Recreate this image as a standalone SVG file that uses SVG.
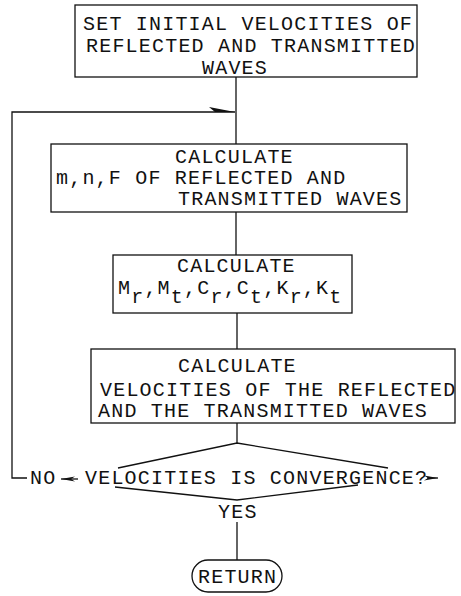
<svg xmlns="http://www.w3.org/2000/svg" width="461" height="596" viewBox="0 0 461 596">
<style>
  .t { font-family: "Liberation Mono", "DejaVu Sans Mono", monospace; font-size: 20px; letter-spacing: 1.2px; fill: #111; }
  .b { fill: #fff; stroke: #111; stroke-width: 1.3; }
  .c { fill: none; stroke: #111; stroke-width: 1.3; }
</style>
<defs>
  <marker id="ah" viewBox="0 0 14 6" refX="14" refY="3" markerWidth="14" markerHeight="6" markerUnits="userSpaceOnUse" orient="auto">
    <path d="M0,0.5 L14,3 L0,5.5 L4,3 z" fill="#111"/>
  </marker>
  <marker id="half" viewBox="0 0 26 6" refX="26" refY="5" markerWidth="26" markerHeight="6" markerUnits="userSpaceOnUse" orient="auto">
    <path d="M0,0 L26,5 L6,5 z" fill="#111"/>
  </marker>
</defs>
<rect width="461" height="596" fill="#fff"/>
<g id="connectors">
  <line class="c" x1="236" y1="77" x2="236" y2="144"/>
  <path class="c" d="M27,478 H12 V112 H235" marker-end="url(#half)"/>
  <line class="c" x1="236" y1="212" x2="236" y2="255"/>
  <line class="c" x1="237" y1="313" x2="237" y2="349"/>
  <line class="c" x1="237" y1="423" x2="237" y2="443"/>
  <line class="c" x1="78" y1="479" x2="61" y2="479" marker-end="url(#ah)"/>
  <line class="c" x1="427" y1="478" x2="438" y2="478" marker-end="url(#ah)"/>
  <line class="c" x1="237" y1="522" x2="237" y2="560"/>
</g>
<g id="n1">
  <rect class="b" x="75" y="5" width="342" height="72"/>
  <text class="t" x="83" y="30">SET INITIAL VELOCITIES OF</text>
  <text class="t" x="86" y="52">REFLECTED AND TRANSMITTED</text>
  <text class="t" x="202" y="74">WAVES</text>
</g>
<g id="n2">
  <rect class="b" x="51" y="144" width="356" height="68"/>
  <text class="t" x="175" y="163">CALCULATE</text>
  <text class="t" x="56" y="184">m,n,F OF REFLECTED AND</text>
  <text class="t" x="178" y="205">TRANSMITTED WAVES</text>
</g>
<g id="n3">
  <rect class="b" x="113" y="255" width="239" height="58"/>
  <text class="t" x="177" y="272">CALCULATE</text>
  <text class="t" x="118" y="294">M<tspan dy="9">r</tspan><tspan dy="-9">,M</tspan><tspan dy="9">t</tspan><tspan dy="-9">,C</tspan><tspan dy="9">r</tspan><tspan dy="-9">,C</tspan><tspan dy="9">t</tspan><tspan dy="-9">,K</tspan><tspan dy="9">r</tspan><tspan dy="-9">,K</tspan><tspan dy="9">t</tspan></text>
</g>
<g id="n4">
  <rect class="b" x="91" y="349" width="364" height="74"/>
  <text class="t" x="178" y="372">CALCULATE</text>
  <text class="t" x="100" y="396">VELOCITIES OF THE REFLECTED</text>
  <text class="t" x="98" y="417">AND THE TRANSMITTED WAVES</text>
</g>
<g id="n5">
  <path class="c" d="M118,468 L237,443 L388,468 M115,487 L237,500 L358,485"/>
  <text class="t" x="85" y="484">VELOCITIES IS CONVERGENCE?</text>
  <text class="t" x="30" y="484">NO</text>
  <text class="t" x="218" y="518">YES</text>
</g>
<g id="n6">
  <rect class="b" x="192" y="560" width="90" height="32" rx="16" ry="16"/>
  <text class="t" x="198" y="583">RETURN</text>
</g>
</svg>
